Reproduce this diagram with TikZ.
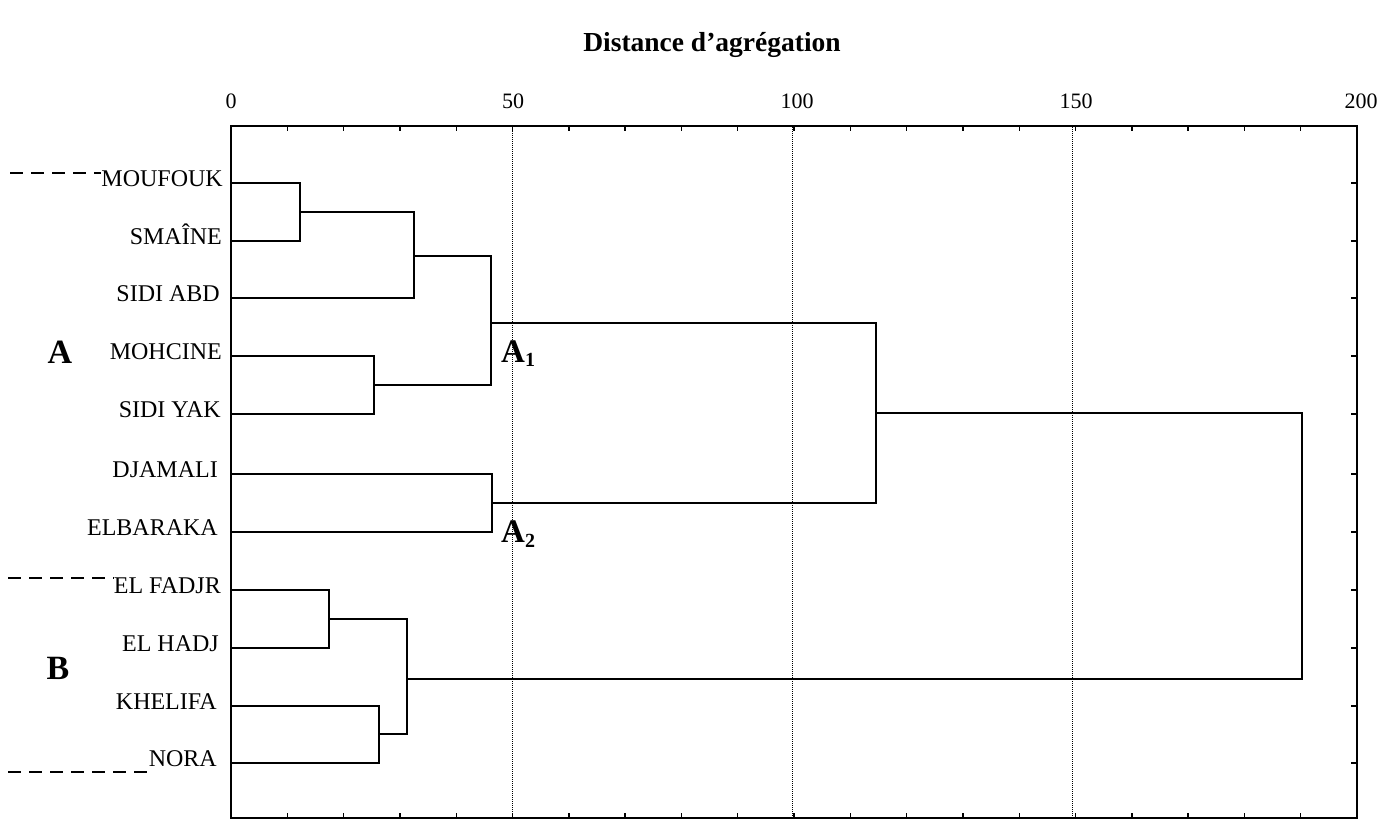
\documentclass[tikz,border=0pt]{standalone}
\usepackage{fontspec}
\setmainfont{Liberation Serif}
\begin{document}
\begin{tikzpicture}[x=1pt,y=-1pt,
  leaf/.style={anchor=east, inner sep=0pt, text height=0.66em, text depth=0pt, font=\fontsize{24}{24}\selectfont},
  link/.style={line width=2pt, line join=miter},
  frame/.style={line width=2.2pt},
  grid/.style={densely dotted, line width=1pt},
  tick/.style={line width=1.4pt},
  num/.style={inner sep=0pt, font=\fontsize{22}{22}\selectfont},
  grp/.style={inner sep=0pt, font=\bfseries\fontsize{34}{34}\selectfont},
  sub/.style={inner sep=0pt, anchor=base west, font=\bfseries\fontsize{33}{33}\selectfont},
  guide/.style={dash pattern=on 13pt off 8pt, line width=1.4pt}]
\useasboundingbox (0,0) rectangle (1393,821);

% title and axis numbers
\node[inner sep=0pt, font=\bfseries\fontsize{27.5}{27.5}\selectfont] (title) at (712,45) {Distance d’agrégation};
\node[num] (n0) at (231,101) {0};
\node[num] (n50) at (513,101) {50};
\node[num] (n100) at (797,101) {100};
\node[num] (n150) at (1076,101) {150};
\node[num] (n200) at (1361,101) {200};

% grid
\foreach \gx in {512,792,1072}
  \draw[grid] (\gx,127) -- (\gx,818);

% frame
\draw[frame] (231,818) -- (231,126) -- (1357,126) -- (1357,818) -- cycle;
\foreach \k in {1,...,19}
  {\draw[tick] ({231+5.63*10*\k},126) -- ++(0,5);
   \draw[tick] ({231+5.63*10*\k},818) -- ++(0,-5);}
\foreach \ty in {183,241,298,356,414,474,532,590,648,706,763}
  \draw[tick] (1357,\ty) -- ++(-6,0);

% leaves
\node[leaf] (moufouk) at (223,183) {MOUFOUK};
\node[leaf] (smaine) at (222,241) {SMAÎNE};
\node[leaf] (sidiabd) at (220,298) {SIDI ABD};
\node[leaf] (mohcine) at (222,356) {MOHCINE};
\node[leaf] (sidiyak) at (221,414) {SIDI YAK};
\node[leaf] (djamali) at (218,474) {DJAMALI};
\node[leaf] (elbaraka) at (218,532) {ELBARAKA};
\node[leaf] (elfadjr) at (221,590) {EL FADJR};
\node[leaf] (elhadj) at (219,648) {EL HADJ};
\node[leaf] (khelifa) at (217,706) {KHELIFA};
\node[leaf] (nora) at (217,763) {NORA};

\coordinate (l1) at (231,183);
\coordinate (l2) at (231,241);
\coordinate (l3) at (231,298);
\coordinate (l4) at (231,356);
\coordinate (l5) at (231,414);
\coordinate (l6) at (231,474);
\coordinate (l7) at (231,532);
\coordinate (l8) at (231,590);
\coordinate (l9) at (231,648);
\coordinate (l10) at (231,706);
\coordinate (l11) at (231,763);

% joins
\coordinate (j1) at (300,212);
\coordinate (j2) at (414,256);
\coordinate (j3) at (374,385);
\coordinate (j4) at (491,323);
\coordinate (j5) at (492,503);
\coordinate (j6) at (876,413);
\coordinate (j7) at (329,619);
\coordinate (j8) at (379,734);
\coordinate (j9) at (407,679);
\coordinate (j10) at (1302,546);

\draw[link] (l1) -| (j1) |- (l2);
\draw[link] (j1) -| (j2) |- (l3);
\draw[link] (l4) -| (j3) |- (l5);
\draw[link] (j2) -| (j4) |- (j3);
\draw[link] (l6) -| (j5) |- (l7);
\draw[link] (j4) -| (j6) |- (j5);
\draw[link] (l8) -| (j7) |- (l9);
\draw[link] (l10) -| (j8) |- (l11);
\draw[link] (j7) -| (j9) |- (j8);
\draw[link] (j6) -| (j10) |- (j9);

% group labels
\node[grp] (ga) at (60,352) {A};
\node[grp] (gb) at (58,668) {B};
\node[sub] (a1) at (501,362) {A{\fontsize{20}{20}\selectfont\raisebox{-5pt}{1}}};
\node[sub] (a2) at (501,542) {A{\fontsize{20}{20}\selectfont\raisebox{-5pt}{2}}};

% dashed guides
\coordinate (d1) at (10,173);
\coordinate (d2) at (8,578);
\coordinate (d3) at (8,772);
\draw[guide] (d1) -- (d1 -| moufouk.west);
\draw[guide] (d2) -- (d2 -| elfadjr.west);
\draw[guide] (d3) -- (d3 -| nora.west);
\end{tikzpicture}
\end{document}
